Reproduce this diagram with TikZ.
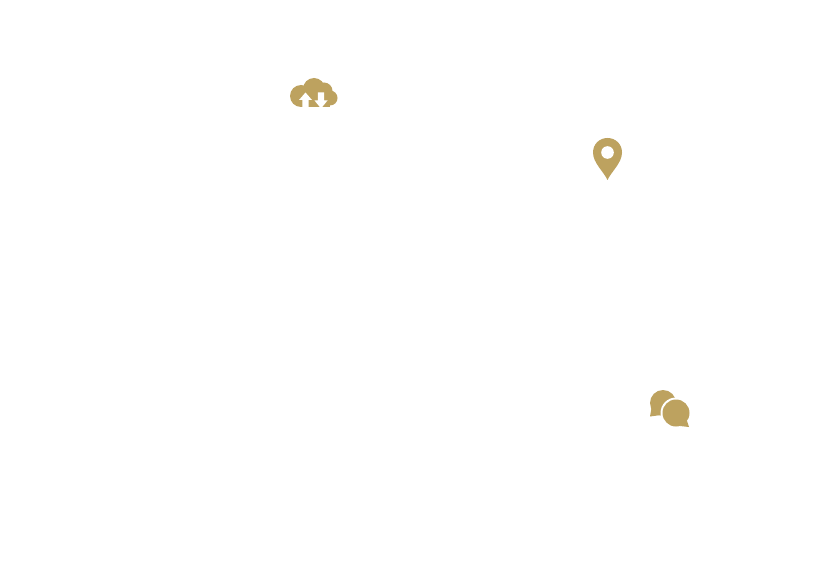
\documentclass[tikz,border=0pt]{standalone}
\definecolor{gold}{HTML}{BDA25F}
\tikzset{icon/.style={fill=gold,draw=none},cut/.style={fill=white,draw=none}}
\begin{document}
\begin{tikzpicture}[x=1pt,y=-1pt]
\useasboundingbox (0,0) rectangle (818,585);
\fill[white] (0,0) rectangle (818,585);
% cloud
\fill[icon] (301,96) circle (11);
\fill[icon] (314,89) circle (11);
\fill[icon] (324,91) circle (8.5);
\fill[icon] (330,98) circle (7.5);
\fill[icon] (300,92) rectangle (330,106.8);
% arrows
\fill[cut] (305.5,92.5) -- (312,100) -- (308.6,100) -- (308.6,108.5) -- (302.4,108.5) -- (302.4,100) -- (299,100) -- cycle;
\fill[cut] (321,108.5) -- (327.5,100.5) -- (324.1,100.5) -- (324.1,92.5) -- (317.9,92.5) -- (317.9,100.5) -- (314.5,100.5) -- cycle;
% pin
\fill[icon] (607.5,180) .. controls (604,172) and (593,163) .. (593,152.5)
  .. controls (593,144) and (599.5,138) .. (607.5,138)
  .. controls (615.5,138) and (622,144) .. (622,152.5)
  .. controls (622,163) and (611,172) .. (607.5,180) -- cycle;
\fill[cut] (607.5,152.5) circle (6.3);
% chat back
\fill[icon] (663,403) circle (13);
\fill[icon] (652,405) -- (650,416.5) -- (661,415) -- cycle;
% chat front
\fill[cut] (676,413) circle (15.5);
\fill[icon] (676,413) circle (13.5);
\fill[icon] (686,418) -- (689,427) -- (680,426) -- cycle;
\end{tikzpicture}
\end{document}
